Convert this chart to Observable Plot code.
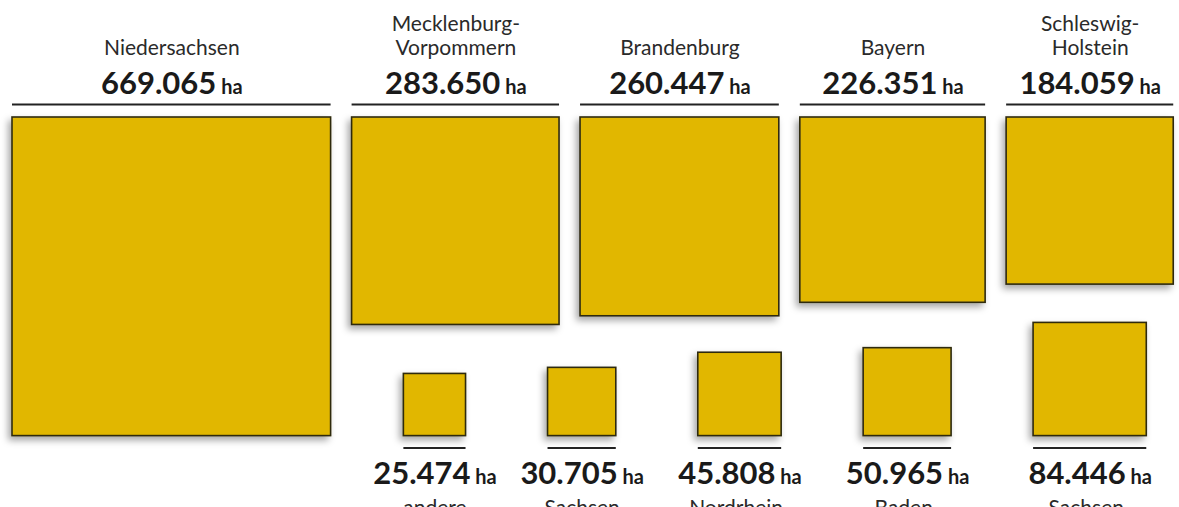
<!DOCTYPE html>
<html>
<head>
<meta charset="utf-8">
<script src="https://cdn.jsdelivr.net/npm/d3@7"></script>
<script src="https://cdn.jsdelivr.net/npm/@observablehq/plot@0.6"></script>
<style>
  html, body { margin: 0; padding: 0; background: #fff; }
  #chart { width: 1179px; height: 507px; overflow: hidden; }
</style>
</head>
<body>
<div id="chart"></div>
<script>
// ---- data ----
const topNames = ["Niedersachsen", "Mecklenburg-\nVorpommern", "Brandenburg", "Bayern", "Schleswig-\nHolstein"];
const topValues = [669065, 283650, 260447, 226351, 184059];
const bottomNames = ["andere", "Sachsen", "Nordrhein-\nWestfalen", "Baden-\nWürttemberg", "Sachsen-\nAnhalt"];
const bottomValues = [25474, 30705, 45808, 50965, 84446];
const unit = "ha";

// ---- layout (area-proportional squares; side = sqrt(value)) ----
const k = 0.3895;          // pixels per sqrt(ha)
const topGap = 21 / k;     // gap between top squares
const bottomGap = 82 / k;  // gap between bottom squares
const fmt = d3.formatLocale({decimal: ",", thousands: ".", grouping: [3], currency: ["", ""]}).format(",d");

const topRow = [];
let cursor = 0;
topNames.forEach((name, i) => {
  const s = Math.sqrt(topValues[i]);
  topRow.push({name, value: topValues[i], x1: cursor, x2: cursor + s, cx: cursor + s / 2, y1: 0, y2: s});
  cursor += s + topGap;
});
const baseY = topRow[0].y2;
const bottomRow = [];
let right = topRow[topRow.length - 1].cx + Math.sqrt(bottomValues[bottomValues.length - 1]) / 2;
for (let i = bottomNames.length - 1; i >= 0; i--) {
  const s = Math.sqrt(bottomValues[i]);
  bottomRow.unshift({name: bottomNames[i], value: bottomValues[i], x1: right - s, x2: right, cx: right - s / 2, y1: baseY - s, y2: baseY});
  right -= s + bottomGap;
}
const label = d => fmt(d.value) + " " + unit;

const fill = "#E1B700";
const stroke = "#2e2a10";
const ink = "#1a1a1a";

const svg = Plot.plot({
  width: 1179,
  height: 507,
  margin: 0,
  style: {fontFamily: "Lato, 'Open Sans', sans-serif", background: "#fff", color: ink},
  x: {domain: [-12 / k, (1179 - 12) / k], range: [0, 1179], axis: null},
  y: {domain: [-117 / k, (507 - 117) / k], range: [0, 507], axis: null},
  marks: [
    Plot.rect(topRow.concat(bottomRow), {x1: "x1", x2: "x2", y1: "y1", y2: "y2", fill, stroke, strokeWidth: 1.6}),
    Plot.ruleY(topRow, {x1: "x1", x2: "x2", y: "y1", dy: -13, stroke: "#222", strokeWidth: 2}),
    Plot.ruleY(bottomRow, {x1: "x1", x2: "x2", y: "y2", dy: 12, stroke: "#222", strokeWidth: 2}),
    Plot.text(topRow, {x: "cx", y: "y1", text: label, dy: -33, lineAnchor: "middle", fontSize: 31, fontWeight: "bold", fill: ink}),
    Plot.text(topRow, {x: "cx", y: "y1", text: "name", dy: -63, lineAnchor: "bottom", fontSize: 21, lineHeight: 1.12, fill: "#2a2a2a"}),
    Plot.text(bottomRow, {x: "cx", y: "y2", text: label, dy: 38, lineAnchor: "middle", fontSize: 31, fontWeight: "bold", fill: ink}),
    Plot.text(bottomRow, {x: "cx", y: "y2", text: "name", dy: 62, lineAnchor: "top", fontSize: 21, lineHeight: 1.12, fill: "#2a2a2a"})
  ]
});

// smaller unit suffix inside the value labels
d3.select(svg).selectAll("text").each(function () {
  const t = this.textContent;
  const m = t.match(/^([\d.]+) (ha)$/);
  if (m && this.children.length === 0) {
    const sel = d3.select(this);
    sel.text(null);
    sel.append("tspan").text(m[1]);
    sel.append("tspan").attr("font-size", 20).text(" " + m[2]);
  }
});

// soft drop shadow on the squares
const defs = d3.select(svg).insert("defs", ":first-child");
defs.append("filter").attr("id", "sh").attr("x", "-20%").attr("y", "-20%").attr("width", "140%").attr("height", "140%")
  .append("feDropShadow").attr("dx", -3).attr("dy", 4).attr("stdDeviation", 3.5).attr("flood-color", "#000").attr("flood-opacity", 0.35);
d3.select(svg).selectAll('g[aria-label="rect"]').attr("filter", "url(#sh)");

document.getElementById("chart").appendChild(svg);
</script>
</body>
</html>
